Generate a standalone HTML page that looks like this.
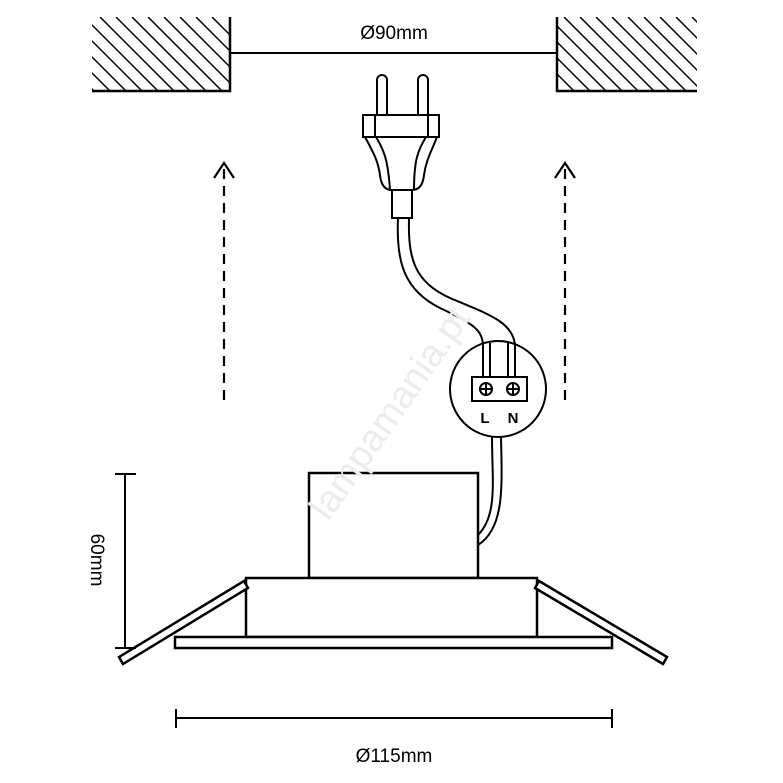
<!DOCTYPE html>
<html><head><style>html,body{margin:0;padding:0;background:#fff}svg{display:block}</style></head><body>
<svg width="783" height="783" viewBox="0 0 783 783" xmlns="http://www.w3.org/2000/svg">
<defs>
<clipPath id="cl"><rect x="92" y="17" width="137" height="74"/></clipPath>
<clipPath id="cr"><rect x="557" y="17" width="140" height="74"/></clipPath>
</defs>
<g stroke="#000" stroke-width="1.5" clip-path="url(#cl)">
<path d="M20 17 L94 91 M36 17 L110 91 M52 17 L126 91 M68 17 L142 91 M84 17 L158 91 M100 17 L174 91 M116 17 L190 91 M132 17 L206 91 M148 17 L222 91 M164 17 L238 91 M180 17 L254 91 M196 17 L270 91 M212 17 L286 91"/>
</g>
<g stroke="#000" stroke-width="1.5" clip-path="url(#cr)">
<path d="M500 17 L574 91 M516 17 L590 91 M532 17 L606 91 M548 17 L622 91 M564 17 L638 91 M580 17 L654 91 M596 17 L670 91 M612 17 L686 91 M628 17 L702 91 M644 17 L718 91 M660 17 L734 91 M676 17 L750 91 M692 17 L766 91"/>
</g>
<g fill="none" stroke="#000" stroke-width="2.5">
<path d="M92 91 H230 V17"/>
<path d="M697 91 H557 V17"/>
</g>
<line x1="230" y1="53" x2="557" y2="53" stroke="#000" stroke-width="2"/>
<text x="394" y="39" font-family="Liberation Sans, sans-serif" font-size="19" text-anchor="middle">Ø90mm</text>

<g stroke="#000" stroke-width="2.2" fill="none">
<line x1="224" y1="400" x2="224" y2="165" stroke-dasharray="10,7"/>
<path d="M214 178 L224 163 L234 178"/>
<line x1="565" y1="400" x2="565" y2="165" stroke-dasharray="10,7"/>
<path d="M555 178 L565 163 L575 178"/>
</g>

<g fill="none" stroke="#000" stroke-width="2">
<path d="M377 115 V80 a5 5 0 0 1 10 0 V115"/>
<path d="M418 115 V80 a5 5 0 0 1 10 0 V115"/>
<rect x="363" y="115" width="76" height="22" fill="#fff"/>
<line x1="375" y1="115" x2="375" y2="137"/><line x1="428" y1="115" x2="428" y2="137"/>
<path d="M365 137 C372 150 378 160 380 175 C381 185 385 190 392 190 H412 C419 190 423 185 424 175 C426 160 432 150 437 137"/>
<path d="M376 137 C384 150 388 160 390 190 M426 137 C418 150 414 160 414 190"/>
<rect x="392" y="190" width="20" height="28" fill="#fff"/>
<path d="M398 218 C396 262 404 290 440 308 C474 324 482 330 483 345"/>
<path d="M409 218 C408 258 414 282 450 298 C488 314 513 322 515 345"/>
<circle cx="498" cy="389" r="48" fill="#fff"/>
<path d="M483 343 V377 M490 343 V377 M508 343 V377 M515 343 V377"/>
<rect x="472" y="377" width="55" height="24" fill="#fff"/>
<circle cx="486" cy="389" r="6"/><path d="M480 389 h12 M486 383 v12"/>
<circle cx="513" cy="389" r="6"/><path d="M507 389 h12 M513 383 v12"/>
<path d="M492 437 C492 480 498 515 478 535"/>
<path d="M501 437 C502 485 505 528 478 545"/>
</g>
<text x="485" y="423" font-family="Liberation Sans, sans-serif" font-size="15" font-weight="bold" text-anchor="middle">L</text>
<text x="513" y="423" font-family="Liberation Sans, sans-serif" font-size="15" font-weight="bold" text-anchor="middle">N</text>

<g fill="none" stroke="#000" stroke-width="2.5">
<rect x="309" y="473" width="169" height="105" fill="#fff"/>
<rect x="246" y="578" width="291" height="59" fill="#fff"/>
<rect x="175" y="637" width="437" height="11" fill="#fff"/>
<path d="M244 581 L119 657 L123 664 L248 588 Z" fill="#fff"/>
<path d="M539 581 L667 657 L663 664 L535 588 Z" fill="#fff"/>
</g>
<g stroke="#000" stroke-width="2">
<line x1="125" y1="474" x2="125" y2="648"/>
<line x1="115" y1="474" x2="136" y2="474"/>
<line x1="115" y1="648" x2="136" y2="648"/>
<line x1="176" y1="718" x2="612" y2="718"/>
<line x1="176" y1="709" x2="176" y2="728"/>
<line x1="612" y1="709" x2="612" y2="728"/>
</g>
<text transform="translate(91,560) rotate(90)" font-family="Liberation Sans, sans-serif" font-size="19" text-anchor="middle">60mm</text>
<text x="394" y="762" font-family="Liberation Sans, sans-serif" font-size="19" text-anchor="middle">Ø115mm</text>

<text transform="translate(400,420) rotate(-55)" font-family="Liberation Sans, sans-serif" font-size="38" fill="#ececec" text-anchor="middle">lampamania.pt</text>
</svg>
</body></html>
